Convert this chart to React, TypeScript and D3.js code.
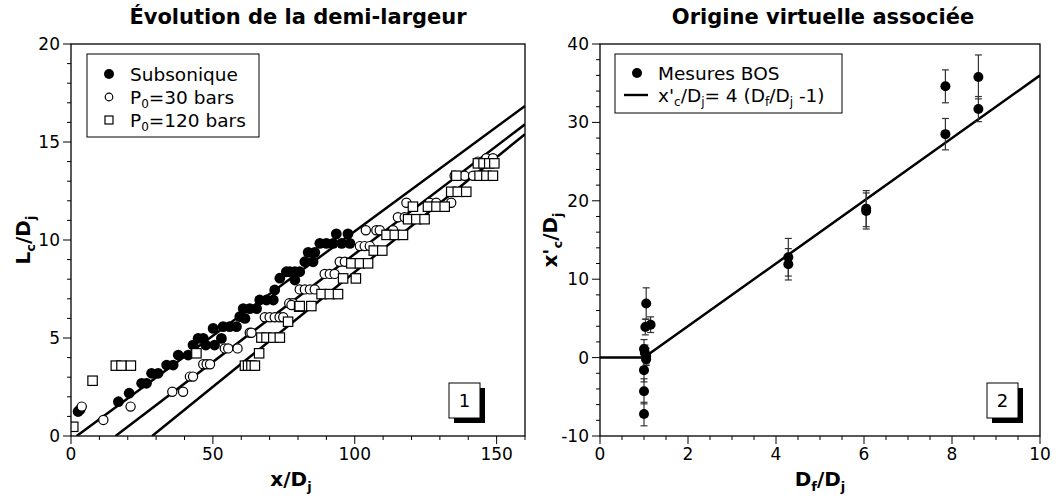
import React from 'react';
import * as d3 from 'd3';

// ---------- Left panel data ----------
const subX = [2.5, 3.2, 16.7, 20.5, 24.9, 26.6, 28.4, 30.7, 33.7, 36.0, 37.8, 41.3, 43.0, 44.8, 46.6, 47.5, 50.6, 50.1, 53.0, 53.6, 55.9, 58.3, 59.5, 61.3, 60.7, 63.0, 65.4, 66.5, 68.9, 71.3, 71.8, 73.6, 75.9, 77.1, 78.9, 78.9, 80.6, 82.4, 85.3, 83.6, 85.9, 87.7, 90.0, 92.4, 95.4, 98.3, 93.5, 97.6];
const subY = [1.25, 1.35, 1.75, 2.18, 2.69, 2.69, 3.2, 3.2, 3.62, 3.62, 4.13, 4.13, 4.64, 4.98, 4.98, 4.64, 4.64, 5.49, 4.98, 5.58, 5.58, 5.58, 6.09, 6.0, 6.5, 6.5, 6.5, 6.94, 6.94, 6.94, 7.45, 8.05, 8.38, 8.38, 8.38, 7.96, 8.38, 8.89, 8.89, 9.37, 9.37, 9.83, 9.83, 9.83, 9.83, 9.83, 10.31, 10.31];

const p30X = [3.8, 11.4, 21.0, 35.7, 39.5, 41.9, 43.0, 46.6, 47.8, 49.0, 54.2, 55.4, 58.7, 63.0, 63.6, 68.3, 70.0, 71.8, 73.5, 74.8, 76.9, 78.2, 77.7, 80.6, 82.4, 84.2, 85.9, 89.4, 91.2, 92.9, 94.7, 96.5, 101.8, 103.5, 105.3, 103.9, 107.6, 108.8, 113.5, 115.2, 117.6, 118.2, 126.4, 128.7, 134.0, 135.2, 138.7, 141.7, 143.4, 146.4, 148.7];
const p30Y = [1.5, 0.82, 1.5, 2.26, 2.26, 3.03, 3.03, 3.66, 3.66, 3.66, 4.47, 4.47, 4.47, 5.27, 5.27, 6.06, 6.06, 6.06, 6.06, 6.06, 6.77, 6.77, 6.68, 7.48, 7.48, 7.48, 7.48, 8.27, 8.27, 8.27, 8.89, 8.89, 9.69, 9.69, 9.69, 10.5, 10.5, 10.5, 10.5, 11.16, 11.16, 11.9, 11.9, 11.9, 11.9, 13.28, 13.28, 13.28, 14.0, 14.17, 14.17];

const p120X = [0.8, 7.6, 15.8, 17.8, 21.1, 44.2, 61.3, 62.4, 63.6, 64.8, 66.3, 67.1, 68.9, 71.3, 73.6, 76.5, 80.4, 80.6, 84.7, 88.3, 91.2, 94.1, 95.9, 100.4, 98.8, 101.8, 104.7, 106.7, 109.7, 111.2, 114.1, 117.0, 118.8, 121.7, 124.6, 120.5, 125.8, 128.8, 131.7, 134.0, 136.3, 139.3, 135.8, 144.0, 146.4, 148.7, 143.4, 145.4, 147.4, 149.2];
const p120Y = [0.47, 2.82, 3.59, 3.59, 3.59, 4.22, 3.59, 3.59, 3.59, 3.59, 4.22, 5.02, 5.02, 5.02, 5.02, 5.83, 6.6, 6.63, 6.63, 7.24, 7.24, 7.24, 8.04, 8.04, 8.81, 8.81, 8.81, 9.46, 9.46, 10.26, 10.26, 10.26, 11.06, 11.06, 11.06, 11.7, 11.7, 11.7, 11.7, 12.46, 12.46, 12.46, 13.28, 13.28, 13.28, 13.28, 13.91, 13.91, 13.91, 13.91];

// fitted lines: x-intercept and value at x = 160
const fitStartX = [2.0, 15.7, 28.6];
const fitEndY = [16.84, 15.9, 15.4];

const leftLegend = ['Subsonique', 'P0=30 bars', 'P0=120 bars'];
const leftXTicks = [0, 50, 100, 150];
const leftYTicks = [0, 5, 10, 15, 20];

// ---------- Right panel data ----------
const dfX = [1.05, 1.03, 1.15, 1.0, 1.02, 1.05, 1.05, 1.0, 1.0, 1.0, 4.28, 4.28, 6.05, 6.05, 7.85, 7.85, 8.6, 8.6];
const xcY = [6.9, 3.9, 4.2, 1.1, 0.6, 0.2, -0.2, -1.6, -4.3, -7.2, 12.8, 11.9, 19.0, 18.7, 34.6, 28.5, 35.8, 31.7];
const xcErr = [2.0, 1.0, 1.0, 1.2, 1.0, 1.0, 0.8, 1.5, 1.6, 1.5, 2.4, 2.0, 2.3, 2.3, 2.1, 2.0, 2.8, 1.6];
const modelDf = [0, 1, 10];
const rightXTicks = [0, 2, 4, 6, 8, 10];
const rightYTicks = [-10, 0, 10, 20, 30, 40];

const FONT = 'DejaVu Sans, sans-serif';

export default function App() {
  const xL = d3.scaleLinear().domain([0, 160]).range([71, 525]);
  const yL = d3.scaleLinear().domain([0, 20]).range([436, 44]);
  const xR = d3.scaleLinear().domain([0, 10]).range([600, 1040]);
  const yR = d3.scaleLinear().domain([-10, 40]).range([436, 44]);

  const model = (d: number) => (d < 1 ? 0 : 4 * (d - 1));
  const modelLine = d3.line<number>().x((d) => xR(d)).y((d) => yR(model(d)));

  const minorL_x = d3.range(0, 161, 10);
  const minorL_y = d3.range(0, 20.01, 1);
  const minorR_x = d3.range(0, 10.01, 0.5);
  const minorR_y = d3.range(-10, 40.01, 2);

  const tickLabel = { fontFamily: FONT, fontSize: 17, fill: '#000' } as const;

  return (
    <svg width={1056} height={498} style={{ position: 'absolute', left: 0, top: 0, background: '#fff' }}
      xmlns="http://www.w3.org/2000/svg">
      <rect width={1056} height={498} fill="#fff" />
      <defs>
        <clipPath id="clipL"><rect x={71} y={44} width={454} height={392} /></clipPath>
        <clipPath id="clipR"><rect x={600} y={44} width={440} height={392} /></clipPath>
      </defs>

      {/* ===== LEFT PANEL ===== */}
      <text x={298} y={24} textAnchor="middle" fontFamily={FONT} fontWeight="bold" fontSize={21}>Évolution de la demi-largeur</text>

      {minorL_x.map((v) => (
        <line key={'lxm' + v} x1={xL(v)} x2={xL(v)} y1={436} y2={436 + (v % 50 === 0 ? 8 : 4)} stroke="#000" strokeWidth={1} />
      ))}
      {minorL_y.map((v) => (
        <line key={'lym' + v} x1={71} x2={71 - (v % 5 === 0 ? 8 : 4)} y1={yL(v)} y2={yL(v)} stroke="#000" strokeWidth={1} />
      ))}
      {leftXTicks.map((v) => (
        <text key={'lxt' + v} x={xL(v)} y={460} textAnchor="middle" {...tickLabel}>{v}</text>
      ))}
      {leftYTicks.map((v) => (
        <text key={'lyt' + v} x={60} y={yL(v) + 6} textAnchor="end" {...tickLabel}>{v}</text>
      ))}

      <g clipPath="url(#clipL)">
        {fitStartX.map((x0, i) => (
          <line key={'fit' + i} x1={xL(x0)} y1={yL(0)} x2={xL(160)} y2={yL(fitEndY[i])} stroke="#000" strokeWidth={2.5} />
        ))}
        {subX.map((x, i) => (
          <circle key={'s' + i} cx={xL(x)} cy={yL(subY[i])} r={5.4} fill="#000" />
        ))}
        {p30X.map((x, i) => (
          <circle key={'o' + i} cx={xL(x)} cy={yL(p30Y[i])} r={4.6} fill="#fff" stroke="#000" strokeWidth={1.2} />
        ))}
        {p120X.map((x, i) => (
          <rect key={'q' + i} x={xL(x) - 4.7} y={yL(p120Y[i]) - 4.7} width={9.4} height={9.4} fill="#fff" stroke="#000" strokeWidth={1.2} />
        ))}
      </g>
      <rect x={71} y={44} width={454} height={392} fill="none" stroke="#000" strokeWidth={1.3} />

      {/* legend */}
      <rect x={87} y={54} width={172} height={83} fill="#fff" stroke="#000" strokeWidth={1} />
      <circle cx={109} cy={74} r={5} fill="#000" />
      <circle cx={109} cy={97} r={3.8} fill="#fff" stroke="#000" strokeWidth={1.2} />
      <rect x={105} y={116} width={8} height={8} fill="#fff" stroke="#000" strokeWidth={1.2} />
      <text x={130} y={80.5} fontFamily={FONT} fontSize={18.5}>{leftLegend[0]}</text>
      <text x={130} y={103.5} fontFamily={FONT} fontSize={18.5}>P<tspan fontSize={12} dy={4}>0</tspan><tspan dy={-4}>=30 bars</tspan></text>
      <text x={130} y={126.5} fontFamily={FONT} fontSize={18.5}>P<tspan fontSize={12} dy={4}>0</tspan><tspan dy={-4}>=120 bars</tspan></text>

      {/* number box 1 */}
      <rect x={454} y={388} width={31} height={35} fill="#000" />
      <rect x={449} y={383} width={31} height={35} fill="#fff" stroke="#000" strokeWidth={1} />
      <text x={464.5} y={407} textAnchor="middle" fontFamily={FONT} fontSize={18}>1</text>

      {/* axis labels */}
      <text x={291} y={486} textAnchor="middle" fontFamily={FONT} fontWeight="bold" fontSize={20}>x/D<tspan fontSize={13} dy={5}>j</tspan></text>
      <text transform="translate(30,240) rotate(-90)" textAnchor="middle" fontFamily={FONT} fontWeight="bold" fontSize={20}>L<tspan fontSize={13} dy={5}>c</tspan><tspan dy={-5}>/D</tspan><tspan fontSize={13} dy={5}>j</tspan></text>

      {/* ===== RIGHT PANEL ===== */}
      <text x={823} y={24} textAnchor="middle" fontFamily={FONT} fontWeight="bold" fontSize={21}>Origine virtuelle associée</text>

      {minorR_x.map((v) => (
        <line key={'rxm' + v} x1={xR(v)} x2={xR(v)} y1={436} y2={436 + (Math.abs(v % 2) < 1e-9 ? 8 : 4)} stroke="#000" strokeWidth={1} />
      ))}
      {minorR_y.map((v) => (
        <line key={'rym' + v} x1={600} x2={600 - (Math.abs(v % 10) < 1e-9 ? 8 : 4)} y1={yR(v)} y2={yR(v)} stroke="#000" strokeWidth={1} />
      ))}
      {rightXTicks.map((v) => (
        <text key={'rxt' + v} x={xR(v)} y={460} textAnchor="middle" {...tickLabel}>{v}</text>
      ))}
      {rightYTicks.map((v) => (
        <text key={'ryt' + v} x={589} y={yR(v) + 6} textAnchor="end" {...tickLabel}>{v}</text>
      ))}

      <g clipPath="url(#clipR)">
        <path d={modelLine(modelDf) || ''} fill="none" stroke="#000" strokeWidth={2.5} />
        {dfX.map((x, i) => (
          <g key={'e' + i} stroke="#333" strokeWidth={1.2}>
            <line x1={xR(x)} x2={xR(x)} y1={yR(xcY[i] - xcErr[i])} y2={yR(xcY[i] + xcErr[i])} />
            <line x1={xR(x) - 3.5} x2={xR(x) + 3.5} y1={yR(xcY[i] - xcErr[i])} y2={yR(xcY[i] - xcErr[i])} />
            <line x1={xR(x) - 3.5} x2={xR(x) + 3.5} y1={yR(xcY[i] + xcErr[i])} y2={yR(xcY[i] + xcErr[i])} />
          </g>
        ))}
        {dfX.map((x, i) => (
          <circle key={'r' + i} cx={xR(x)} cy={yR(xcY[i])} r={5} fill="#000" />
        ))}
      </g>
      <rect x={600} y={44} width={440} height={392} fill="none" stroke="#000" strokeWidth={1.3} />

      {/* legend */}
      <rect x={615} y={54} width={227} height={59} fill="#fff" stroke="#000" strokeWidth={1} />
      <circle cx={637} cy={73} r={5} fill="#000" />
      <line x1={624} x2={648} y1={95} y2={95} stroke="#000" strokeWidth={2.4} />
      <text x={658} y={79.5} fontFamily={FONT} fontSize={18.5}>Mesures BOS</text>
      <text x={658} y={101.5} fontFamily={FONT} fontSize={18.5}>x'<tspan fontSize={12} dy={4}>c</tspan><tspan dy={-4}>/D</tspan><tspan fontSize={12} dy={4}>j</tspan><tspan dy={-4}>= 4 (D</tspan><tspan fontSize={12} dy={4}>f</tspan><tspan dy={-4}>/D</tspan><tspan fontSize={12} dy={4}>j</tspan><tspan dy={-4}> -1)</tspan></text>

      {/* number box 2 */}
      <rect x={992} y={388} width={31} height={35} fill="#000" />
      <rect x={987} y={383} width={31} height={35} fill="#fff" stroke="#000" strokeWidth={1} />
      <text x={1002.5} y={407} textAnchor="middle" fontFamily={FONT} fontSize={18}>2</text>

      {/* axis labels */}
      <text x={820} y={486} textAnchor="middle" fontFamily={FONT} fontWeight="bold" fontSize={20}>D<tspan fontSize={13} dy={5}>f</tspan><tspan dy={-5}>/D</tspan><tspan fontSize={13} dy={5}>j</tspan></text>
      <text transform="translate(557,240) rotate(-90)" textAnchor="middle" fontFamily={FONT} fontWeight="bold" fontSize={20}>x'<tspan fontSize={13} dy={5}>c</tspan><tspan dy={-5}>/D</tspan><tspan fontSize={13} dy={5}>j</tspan></text>
    </svg>
  );
}
